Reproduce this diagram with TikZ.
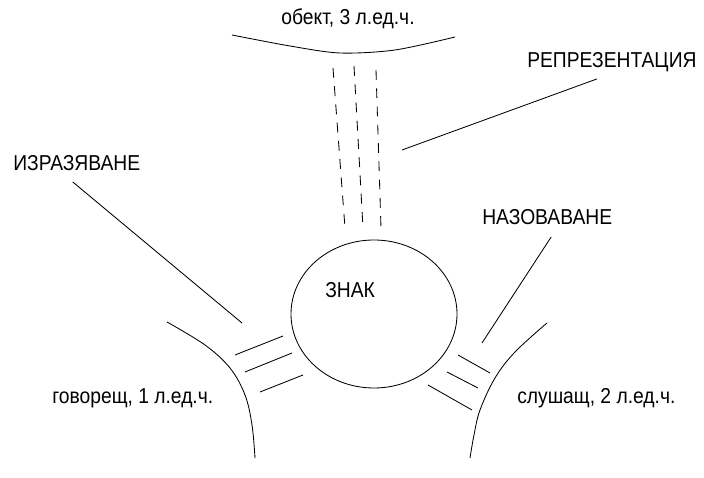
\documentclass[tikz,border=0pt]{standalone}
\usepackage{fontspec}
\setmainfont{Liberation Sans}
\usepackage{tikz}
\usetikzlibrary{shapes.geometric}
\newcommand{\tall}[1]{\scalebox{1}[1.12]{#1}}

\begin{document}
\begin{tikzpicture}[x=0.025cm, y=-0.025cm,
    lbl/.style={font=\fontsize{13.7}{16}\selectfont, inner sep=0pt, anchor=west},
    stroke/.style={line width=0.6pt},
    dashline/.style={stroke, dash pattern=on 7pt off 6pt},
]
    \useasboundingbox (0,0) rectangle (704,478);

    % labels
    \node[lbl, anchor=center] (obekt) at (348,19) {\tall{обект, 3 л.ед.ч.}};
    \node[lbl] (repr) at (527,62) {\tall{РЕПРЕЗЕНТАЦИЯ}};
    \node[lbl] (izraz) at (13,163) {\tall{ИЗРАЗЯВАНЕ}};
    \node[lbl] (nazov) at (482,217) {\tall{НАЗОВАВАНЕ}};
    \node[lbl] (znaktxt) at (325,290) {\tall{ЗНАК}};
    \node[lbl] (govor) at (52,398) {\tall{говорещ, 1 л.ед.ч.}};
    \node[lbl] (slush) at (517,398) {\tall{слушащ, 2 л.ед.ч.}};

    % the sign
    \node[ellipse, draw, stroke, minimum width=166*0.025cm, minimum height=148*0.025cm] (znak) at (374,314) {};

    % object, speaker, listener
    \draw[stroke] plot[smooth, tension=0.5] coordinates {(232,35) (290,46) (340,53) (395,50) (455,37)};
    \draw[stroke] plot[smooth, tension=0.6] coordinates {(167,322) (205,345) (230,368) (245,395) (252,425) (255,458)};
    \draw[stroke] plot[smooth, tension=0.6] coordinates {(547,323) (515,352) (495,378) (480,410) (474,435) (470,458)};

    % representation channel
    \draw[dashline] (333,68) -- (345,228);
    \draw[dashline] (354,66) -- (363,228);
    \draw[dashline] (376,70) -- (381,228);

    % expression channel
    \draw[stroke] (235,355) -- (283,336);
    \draw[stroke] (245,372) -- (292,353);
    \draw[stroke] (260,392) -- (303,375);

    % naming channel
    \draw[stroke] (458,355) -- (490,373);
    \draw[stroke] (447,372) -- (478,388);
    \draw[stroke] (428,385) -- (472,410);

    % leader lines
    \coordinate (reprend) at (402,150);
    \coordinate (izrazend) at (242,323);
    \coordinate (nazovend) at (482,343);
    \draw[stroke] ([shift={(-15,7)}]repr.south) -- (reprend);
    \draw[stroke] ([shift={(-4,11)}]izraz.south) -- (izrazend);
    \draw[stroke] ([shift={(4,12)}]nazov.south) -- (nazovend);
\end{tikzpicture}
\end{document}
